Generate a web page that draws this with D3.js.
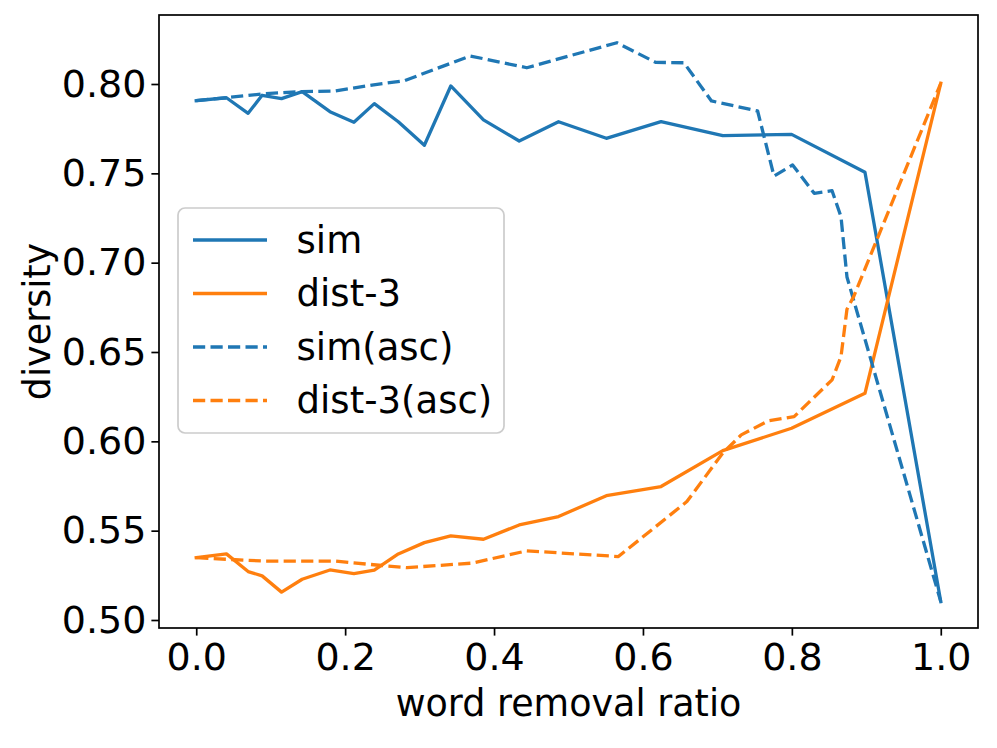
<!DOCTYPE html>
<html>
<head>
<meta charset="utf-8">
<script src="https://cdn.jsdelivr.net/npm/d3@7"></script>
<style>
  html, body { margin: 0; padding: 0; background: #fff; }
  svg { display: block; }
  text { font-family: "DejaVu Sans", sans-serif; fill: #000; }
</style>
</head>
<body>
<svg id="chart" width="997" height="748"></svg>
<script>
// ---- data ----
const simX   = [0, 0.0406, 0.0697, 0.0885, 0.1146, 0.1423, 0.1796, 0.2118, 0.2392, 0.2714, 0.3064, 0.3419, 0.3858, 0.4338, 0.4866, 0.5508, 0.6243, 0.7072, 0.7996, 0.8982, 1.0];
const simY   = [0.7907, 0.7923, 0.7836, 0.7937, 0.7918, 0.7957, 0.7845, 0.7786, 0.7890, 0.7789, 0.7657, 0.7989, 0.7799, 0.7681, 0.7789, 0.7696, 0.7789, 0.7711, 0.7718, 0.7506, 0.5103];
const dist3Y = [0.5349, 0.5370, 0.5271, 0.5247, 0.5156, 0.5228, 0.5280, 0.5260, 0.5279, 0.5370, 0.5433, 0.5471, 0.5452, 0.5532, 0.5579, 0.5696, 0.5747, 0.5948, 0.6073, 0.6269, 0.8004];

const simAscX = [0, 0.040, 0.092, 0.142, 0.186, 0.236, 0.280, 0.368, 0.444, 0.565, 0.617, 0.655, 0.692, 0.754, 0.776, 0.801, 0.830, 0.854, 0.866, 0.874, 1.0];
const simAscY = [0.7907, 0.7923, 0.7946, 0.7957, 0.7961, 0.7994, 0.8019, 0.8157, 0.8091, 0.8231, 0.8121, 0.8119, 0.7905, 0.7849, 0.7485, 0.7547, 0.7388, 0.7403, 0.7257, 0.6920, 0.5103];

const dist3AscX = [0, 0.040, 0.092, 0.186, 0.249, 0.283, 0.370, 0.444, 0.567, 0.659, 0.707, 0.732, 0.768, 0.803, 0.854, 0.866, 0.874, 0.883, 1.0];
const dist3AscY = [0.5349, 0.5340, 0.5330, 0.5330, 0.5305, 0.5293, 0.5318, 0.5387, 0.5355, 0.5663, 0.5933, 0.6036, 0.6114, 0.6138, 0.6344, 0.6474, 0.6739, 0.6810, 0.8004];

const xTicks = [0.0, 0.2, 0.4, 0.6, 0.8, 1.0];
const yTicks = [0.50, 0.55, 0.60, 0.65, 0.70, 0.75, 0.80];

const seriesNames = ["sim", "dist-3", "sim(asc)", "dist-3(asc)"];
const seriesColors = ["#1f77b4", "#ff7f0e", "#1f77b4", "#ff7f0e"];
const seriesDashed = [false, false, true, true];

const xLabel = "word removal ratio";
const yLabel = "diversity";

// ---- build ----
const series = [
  simX.map((x, i) => [x, simY[i]]),
  simX.map((x, i) => [x, dist3Y[i]]),
  simAscX.map((x, i) => [x, simAscY[i]]),
  dist3AscX.map((x, i) => [x, dist3AscY[i]])
];

const svg = d3.select("#chart");
svg.append("rect").attr("width", 997).attr("height", 748).attr("fill", "#fff");

const L = 159, R = 978, T = 15, B = 628;
const x = d3.scaleLinear().domain([-0.05, 1.05]).range([L, R]);
const y = d3.scaleLinear().domain([0.49552, 0.83862]).range([B, T]);

const lw = 3.3;
const dash = `${(3.7*lw).toFixed(1)},${(1.6*lw).toFixed(1)}`;

const line = d3.line().x(d => x(d[0])).y(d => y(d[1]));

const g = svg.append("g");
series.forEach((s, i) => {
  g.append("path")
    .attr("d", line(s))
    .attr("fill", "none")
    .attr("stroke", seriesColors[i])
    .attr("stroke-width", lw)
    .attr("stroke-linejoin", "round")
    .attr("stroke-linecap", seriesDashed[i] ? "butt" : "square")
    .attr("stroke-dasharray", seriesDashed[i] ? dash : null);
});

// axes
const tickFont = 38;
const xAxis = d3.axisBottom(x).tickValues(xTicks).tickFormat(d3.format(".1f")).tickSizeInner(7.6).tickSizeOuter(0).tickPadding(7);
const yAxis = d3.axisLeft(y).tickValues(yTicks).tickFormat(d3.format(".2f")).tickSizeInner(7.6).tickSizeOuter(0).tickPadding(5);

const gx = svg.append("g").attr("transform", `translate(0,${B})`).call(xAxis);
const gy = svg.append("g").attr("transform", `translate(${L},0)`).call(yAxis);
[gx, gy].forEach(a => {
  a.select(".domain").remove();
  a.selectAll(".tick line").attr("stroke", "#000").attr("stroke-width", 1.7);
  a.selectAll(".tick text").attr("font-size", tickFont).attr("font-family", "DejaVu Sans").attr("fill", "#000");
});

// frame
svg.append("rect").attr("x", L).attr("y", T).attr("width", R - L).attr("height", B - T)
  .attr("fill", "none").attr("stroke", "#000").attr("stroke-width", 1.7);

// axis labels
svg.append("text").attr("x", (L + R) / 2).attr("y", 716).attr("text-anchor", "middle")
  .attr("font-size", 36.5).text(xLabel);
svg.append("text").attr("transform", `translate(50,${(T + B) / 2}) rotate(-90)`).attr("text-anchor", "middle")
  .attr("font-size", 36.5).text(yLabel);

// legend
const fs = 37;
const lg = svg.append("g");
const lx = 178, ly = 208, lwBox = 326, lhBox = 225;
lg.append("rect").attr("x", lx).attr("y", ly).attr("width", lwBox).attr("height", lhBox)
  .attr("rx", 7).attr("ry", 7).attr("fill", "#fff").attr("fill-opacity", 0.8)
  .attr("stroke", "#cccccc").attr("stroke-width", 1.7);
const rowH = 53.5;
seriesNames.forEach((name, i) => {
  const cy = 240 + i * rowH;
  lg.append("line").attr("x1", lx + 15).attr("x2", lx + 15 + 2 * fs)
    .attr("y1", cy).attr("y2", cy)
    .attr("stroke", seriesColors[i]).attr("stroke-width", lw)
    .attr("stroke-dasharray", seriesDashed[i] ? dash : null);
  lg.append("text").attr("x", lx + 15 + 2 * fs + 0.8 * fs).attr("y", cy)
    .attr("dy", "0.35em").attr("font-size", fs).text(name);
});
</script>
</body>
</html>
